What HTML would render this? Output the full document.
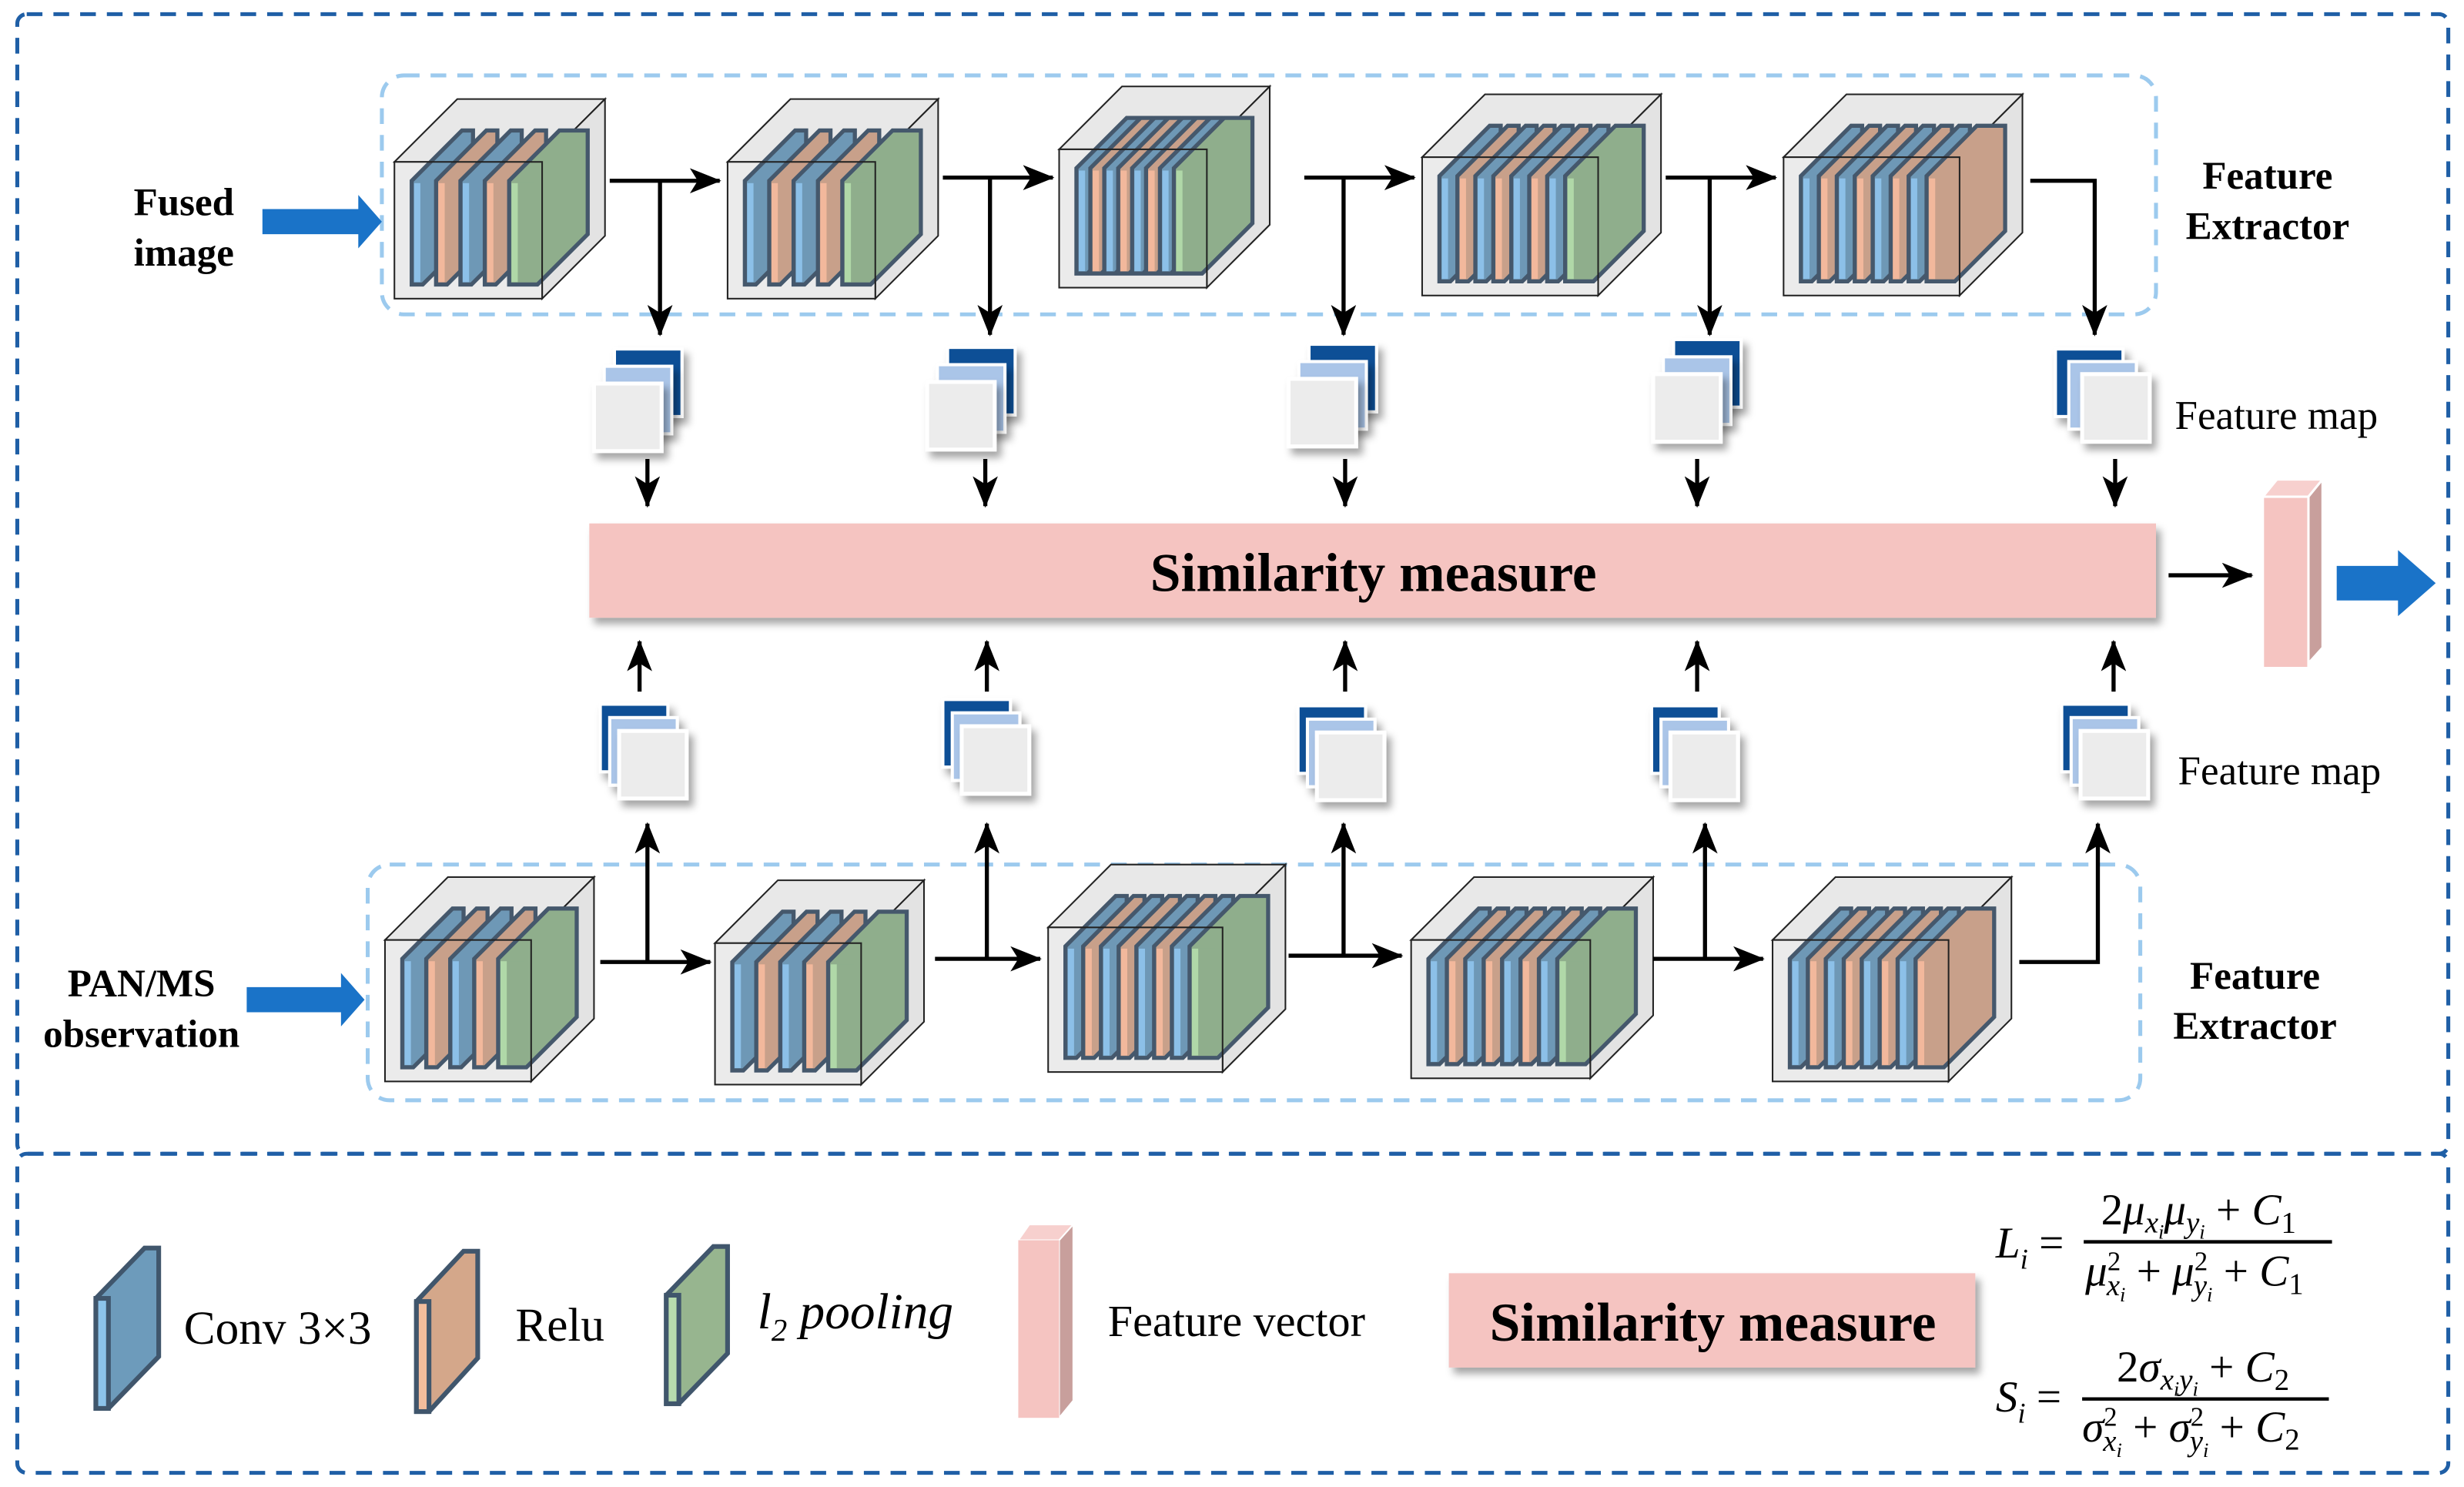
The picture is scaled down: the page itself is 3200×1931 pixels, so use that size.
<!DOCTYPE html>
<html><head><meta charset="utf-8">
<style>
html,body{margin:0;padding:0;background:#fff;}
svg{display:block;}
text{font-family:"Liberation Serif",serif;}
</style></head>
<body>
<svg id="s" width="3200" height="1931" viewBox="0 0 1568 946" preserveAspectRatio="none" xmlns="http://www.w3.org/2000/svg">
<defs>
<marker id="ah" viewBox="0 0 20 16" refX="19" refY="8" markerWidth="20" markerHeight="16" markerUnits="userSpaceOnUse" orient="auto">
<path d="M0,0 L20,8 L0,16 L5,8 Z" fill="#000"/>
</marker>
<filter id="sh" x="-20%" y="-20%" width="150%" height="150%">
<feDropShadow dx="3" dy="4" stdDeviation="2.5" flood-color="#000" flood-opacity="0.35"/>
</filter>
</defs>
<rect x="0" y="0" width="1568" height="946" fill="#fff"/>
<rect x="11" y="9" width="1547" height="725" rx="6" fill="none" stroke="#1f5fa6" stroke-width="2.5" stroke-dasharray="10,7"/>
<rect x="11" y="734" width="1547" height="203" rx="6" fill="none" stroke="#1f5fa6" stroke-width="2.5" stroke-dasharray="10,7"/>
<rect x="243" y="48" width="1129" height="152" rx="14" fill="none" stroke="#9ccaee" stroke-width="2.5" stroke-dasharray="10,7"/>
<rect x="234" y="550" width="1128" height="150" rx="14" fill="none" stroke="#9ccaee" stroke-width="2.5" stroke-dasharray="10,7"/>
<g id="cubes"></g>
<g id="maps"></g>
<g id="conn" stroke="#000" stroke-width="2.6" fill="none">
<path d="M388,115 H458" marker-end="url(#ah)"/><path d="M420,115 V213" marker-end="url(#ah)"/>
<path d="M600,113 H670" marker-end="url(#ah)"/><path d="M630,113 V213" marker-end="url(#ah)"/>
<path d="M830,113 H900" marker-end="url(#ah)"/><path d="M855,113 V213" marker-end="url(#ah)"/>
<path d="M1060,113 H1130" marker-end="url(#ah)"/><path d="M1088,113 V213" marker-end="url(#ah)"/>
<path d="M1292,115 H1333 V213" marker-end="url(#ah)"/>
<path d="M412,292 V322" marker-end="url(#ah)"/>
<path d="M627,292 V322" marker-end="url(#ah)"/>
<path d="M856,292 V322" marker-end="url(#ah)"/>
<path d="M1080,292 V322" marker-end="url(#ah)"/>
<path d="M1346,292 V322" marker-end="url(#ah)"/>
<path d="M407,440 V408" marker-end="url(#ah)"/>
<path d="M628,440 V408" marker-end="url(#ah)"/>
<path d="M856,440 V408" marker-end="url(#ah)"/>
<path d="M1080,440 V408" marker-end="url(#ah)"/>
<path d="M1345,440 V408" marker-end="url(#ah)"/>
<path d="M382,612 H452" marker-end="url(#ah)"/><path d="M412,612 V524" marker-end="url(#ah)"/>
<path d="M595,610 H662" marker-end="url(#ah)"/><path d="M628,610 V524" marker-end="url(#ah)"/>
<path d="M820,608 H892" marker-end="url(#ah)"/><path d="M855,608 V524" marker-end="url(#ah)"/>
<path d="M1052,610 H1122" marker-end="url(#ah)"/><path d="M1085,610 V524" marker-end="url(#ah)"/>
<path d="M1285,612 H1335 V524" marker-end="url(#ah)"/>
<path d="M1380,366 H1433" marker-end="url(#ah)"/>
</g>
<rect x="375" y="333" width="997" height="60" fill="#f5c4c1" filter="url(#sh)"/>
<text x="874" y="376" font-size="35" font-weight="bold" text-anchor="middle">Similarity measure</text>
<polygon points="1440,316 1449,305 1478,305 1469,316" fill="#f7d0ce" stroke="#fff" stroke-width="1.5"/>
<polygon points="1469,316 1478,305 1478,412 1469,422" fill="#c89f9c" stroke="#fff" stroke-width="1.5"/>
<rect x="1440" y="316" width="29" height="109" fill="#f5c4c1" stroke="#fff" stroke-width="1.5"/>
<polygon points="1487,360 1526,360 1526,350 1550,371 1526,392 1526,382 1487,382" fill="#1a73c8"/>
<polygon points="167,133 228,133 228,124 243,141 228,158 228,149 167,149" fill="#1a73c8"/>
<polygon points="157,628 217,628 217,619 232,636 217,653 217,644 157,644" fill="#1a73c8"/>
<g font-size="25" font-weight="bold" text-anchor="middle">
<text x="117" y="137">Fused</text><text x="117" y="169">image</text>
<text x="90" y="634">PAN/MS</text><text x="90" y="666">observation</text>
<text x="1443" y="120">Feature</text><text x="1443" y="152">Extractor</text>
<text x="1435" y="629">Feature</text><text x="1435" y="661">Extractor</text>
</g>
<text x="1384" y="273" font-size="26">Feature map</text>
<text x="1386" y="499" font-size="26">Feature map</text>
<g stroke="#40566c" stroke-width="3" stroke-linejoin="miter">
<polygon points="61,826 92,794 101,794 101,863 69,896 61,896" fill="#6d9bbb"/>
<rect x="61" y="826" width="8" height="70" fill="#8cc3ea"/>
<polygon points="265,828 295,796 304,796 304,864 273,898 265,898" fill="#d4a78a"/>
<rect x="265" y="828" width="8" height="70" fill="#f3bd9c"/>
<polygon points="424,824 454,793 463,793 463,861 432,893 424,893" fill="#97b58f"/>
<rect x="424" y="824" width="8" height="69" fill="#b8dcae"/>
</g>
<text x="117" y="855" font-size="30">Conv 3×3</text>
<text x="328" y="853" font-size="30">Relu</text>
<text x="482" y="845" font-size="32" font-style="italic">l<tspan font-size="20" dy="8">2</tspan><tspan dy="-8"> pooling</tspan></text>
<polygon points="648,789 655,779 683,779 674,789" fill="#f7d0ce" stroke="#fff"/>
<polygon points="674,789 683,779 683,891 674,902" fill="#c89f9c" stroke="#fff"/>
<rect x="648" y="789" width="26" height="113" fill="#f5c4c1"/>
<text x="705" y="850" font-size="28.5">Feature vector</text>
<rect x="922" y="810" width="335" height="60" fill="#f5c4c1" filter="url(#sh)"/>
<text x="1090" y="853" font-size="35" font-weight="bold" text-anchor="middle">Similarity measure</text>
<g font-size="28" font-style="italic">
<text x="1270" y="800">L<tspan font-size="18" dy="7">i</tspan><tspan dy="-7" font-style="normal"> =</tspan></text>
<line x1="1326" y1="790" x2="1484" y2="790" stroke="#000" stroke-width="2.2"/>
<text x="1337" y="779"><tspan font-style="normal">2</tspan>μ<tspan font-size="19" dy="5">x</tspan><tspan font-size="13" dy="4">i</tspan><tspan dy="-9">μ</tspan><tspan font-size="19" dy="5">y</tspan><tspan font-size="13" dy="4">i</tspan><tspan dy="-9" font-style="normal"> + </tspan>C<tspan font-size="19" dy="5" font-style="normal">1</tspan></text>
<text x="1327" y="818">μ<tspan font-size="17" dy="-10" font-style="normal">2</tspan><tspan font-size="19" dx="-9" dy="16">x</tspan><tspan font-size="13" dy="4">i</tspan><tspan dy="-10" font-style="normal"> + </tspan>μ<tspan font-size="17" dy="-10" font-style="normal">2</tspan><tspan font-size="19" dx="-9" dy="16">y</tspan><tspan font-size="13" dy="4">i</tspan><tspan dy="-10" font-style="normal"> + </tspan>C<tspan font-size="19" dy="5" font-style="normal">1</tspan></text>
<text x="1270" y="898">S<tspan font-size="18" dy="7">i</tspan><tspan dy="-7" font-style="normal"> =</tspan></text>
<line x1="1325" y1="890" x2="1482" y2="890" stroke="#000" stroke-width="2.2"/>
<text x="1347" y="879"><tspan font-style="normal">2</tspan>σ<tspan font-size="19" dy="5">x</tspan><tspan font-size="13" dy="4">i</tspan><tspan font-size="19" dy="-4">y</tspan><tspan font-size="13" dy="4">i</tspan><tspan dy="-9" font-style="normal"> + </tspan>C<tspan font-size="19" dy="5" font-style="normal">2</tspan></text>
<text x="1325" y="917">σ<tspan font-size="17" dy="-10" font-style="normal">2</tspan><tspan font-size="19" dx="-9" dy="16">x</tspan><tspan font-size="13" dy="4">i</tspan><tspan dy="-10" font-style="normal"> + </tspan>σ<tspan font-size="17" dy="-10" font-style="normal">2</tspan><tspan font-size="19" dx="-9" dy="16">y</tspan><tspan font-size="13" dy="4">i</tspan><tspan dy="-10" font-style="normal"> + </tspan>C<tspan font-size="19" dy="5" font-style="normal">2</tspan></text>
</g>
</svg>
<script>
(function(){
var NS="http://www.w3.org/2000/svg";
function el(p,t,a){var e=document.createElementNS(NS,t);for(var k in a)e.setAttribute(k,a[k]);p.appendChild(e);return e;}
var C={B:["#6e98b6","#8cc0e8"],O:["#c8a08a","#f2b89c"],G:["#8fae8c","#b0d8a8"]};
var g=document.getElementById("cubes");
function cube(fx,fy,fw,fh,pat){
 var d=40;
 el(g,"polygon",{points:[fx,fy,fx+d,fy-d,fx+fw+d,fy-d,fx+fw,fy].join(","),fill:"#e8e8e8",stroke:"#222","stroke-width":1});
 el(g,"polygon",{points:[fx+fw,fy,fx+fw+d,fy-d,fx+fw+d,fy+fh-d,fx+fw,fy+fh].join(","),fill:"#e3e3e3",stroke:"#222","stroke-width":1});
 el(g,"rect",{x:fx,y:fy,width:fw,height:fh,fill:"#ebebeb"});
 var n=pat.length, step=(fw-32)/(n-1), yt=fy+12, yb=fy+fh-9, dd=32;
 for(var i=0;i<n;i++){
  var x=fx+11+i*step, w=(i==n-1)?18:7, c=C[pat[i]];
  el(g,"polygon",{points:[x,yt,x+dd,yt-dd,x+w+dd,yt-dd,x+w+dd,yb-dd,x+w,yb,x,yb].join(","),fill:c[0],stroke:"#45586c","stroke-width":2.6,"stroke-linejoin":"miter"});
  el(g,"rect",{x:x+1.5,y:yt+1.5,width:Math.max(w-3,3),height:yb-yt-3,fill:(i==n-1)?c[0]:c[1]});
  if(i==n-1){el(g,"rect",{x:x+1.5,y:yt+1.5,width:4,height:yb-yt-3,fill:c[1]});}
 }
 el(g,"rect",{x:fx,y:fy,width:fw,height:fh,fill:"none",stroke:"#222","stroke-width":1});
}
cube(251,103,94,87,"BOBOG");
cube(463,103,94,87,"BOBOG");
cube(674,95,94,88,"BOBOBOBG");
cube(905,100,112,88,"BOBOBOBG");
cube(1135,100,112,88,"BOBOBOBO");
cube(245,598,93,90,"BOBOG");
cube(455,600,93,90,"BOBOG");
cube(667,590,111,92,"BOBOBOBG");
cube(898,598,114,88,"BOBOBOBG");
cube(1128,598,112,90,"BOBOBOBO");
var m=document.getElementById("maps");
function fm(x,y,dx,dy){
 var s=43;
 el(m,"rect",{x:x+2*dx,y:y+2*dy,width:s,height:s,fill:"#0b4f96",stroke:"#fff","stroke-width":2,filter:"url(#sh)"});
 el(m,"rect",{x:x+dx,y:y+dy,width:s,height:s,fill:"#aac5e8",stroke:"#fff","stroke-width":2,filter:"url(#sh)"});
 el(m,"rect",{x:x,y:y,width:s,height:s,fill:"#ececec",stroke:"#fff","stroke-width":2.5,filter:"url(#sh)"});
}
fm(378,244,6.5,-11);fm(590,243,6.5,-11);fm(820,241,6.5,-11);fm(1052,238,6.5,-11);fm(1325,238,-8.5,-8);
fm(394,465,-6,-8.5);fm(612,462,-6,-8.5);fm(838,466,-6,-8.5);fm(1063,466,-6,-8.5);fm(1324,465,-6,-8.5);
})();
</script>
</body></html>
